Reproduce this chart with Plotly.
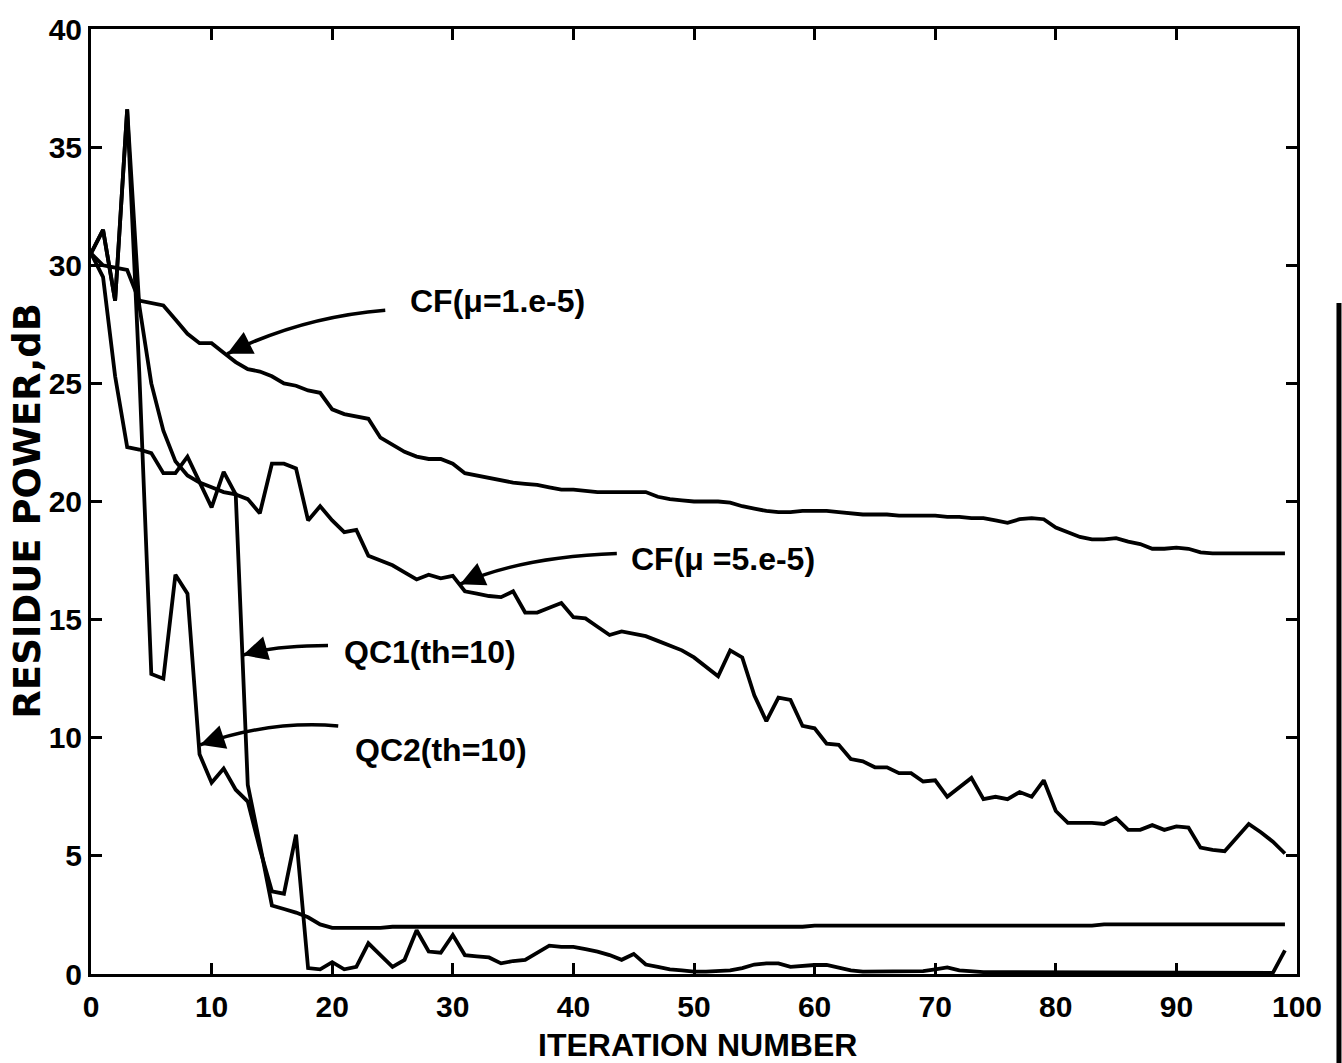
import plotly.graph_objects as go

# ---- data ----
iterations = list(range(100))

cf_mu_1e5 = [30.5, 30.0, 29.9, 29.8, 28.5, 28.4, 28.3, 27.7, 27.1, 26.7,
             26.7, 26.3, 25.9, 25.6, 25.5, 25.3, 25.0, 24.9, 24.7, 24.6,
             23.9, 23.7, 23.6, 23.5, 22.7, 22.4, 22.1, 21.9, 21.8, 21.8,
             21.6, 21.2, 21.1, 21.0, 20.9, 20.8, 20.75, 20.7, 20.6, 20.5,
             20.5, 20.45, 20.4, 20.4, 20.4, 20.4, 20.4, 20.2, 20.1, 20.05,
             20.0, 20.0, 20.0, 19.95, 19.8, 19.7, 19.6, 19.55, 19.55, 19.6,
             19.6, 19.6, 19.55, 19.5, 19.45, 19.45, 19.45, 19.4, 19.4, 19.4,
             19.4, 19.35, 19.35, 19.3, 19.3, 19.2, 19.1, 19.25, 19.3, 19.25,
             18.9, 18.7, 18.5, 18.4, 18.4, 18.45, 18.3, 18.2, 18.0, 18.0,
             18.05, 18.0, 17.85, 17.8, 17.8, 17.8, 17.8, 17.8, 17.8, 17.8]

cf_mu_5e5 = [30.5, 29.5, 25.3, 22.3, 22.2, 22.05, 21.2, 21.2, 21.9, 20.8,
             19.75, 21.25, 20.3, 20.1, 19.5, 21.6, 21.6, 21.4, 19.2, 19.8,
             19.2, 18.7, 18.8, 17.7, 17.5, 17.3, 17.0, 16.7, 16.9, 16.75,
             16.85, 16.2, 16.1, 16.0, 15.95, 16.2, 15.3, 15.3, 15.5, 15.7,
             15.1, 15.05, 14.7, 14.35, 14.5, 14.4, 14.3, 14.1, 13.9, 13.7,
             13.4, 13.0, 12.6, 13.7, 13.4, 11.8, 10.7, 11.7, 11.6, 10.5,
             10.4, 9.75, 9.7, 9.1, 9.0, 8.75, 8.75, 8.5, 8.5, 8.15,
             8.2, 7.5, 7.9, 8.3, 7.4, 7.5, 7.4, 7.7, 7.5, 8.2,
             6.9, 6.4, 6.4, 6.4, 6.35, 6.6, 6.1, 6.1, 6.3, 6.1,
             6.25, 6.2, 5.35, 5.25, 5.2, 5.8, 6.35, 6.0, 5.6, 5.1]

qc1_th10 = [30.5, 31.5, 28.5, 36.6, 28.3, 25.0, 23.0, 21.7, 21.1, 20.8,
            20.6, 20.4, 20.3, 8.0, 5.5, 2.9, 2.75, 2.6, 2.4, 2.1,
            1.95, 1.95, 1.95, 1.95, 1.95, 2.0, 2.0, 2.0, 2.0, 2.0,
            2.0, 2.0, 2.0, 2.0, 2.0, 2.0, 2.0, 2.0, 2.0, 2.0,
            2.0, 2.0, 2.0, 2.0, 2.0, 2.0, 2.0, 2.0, 2.0, 2.0,
            2.0, 2.0, 2.0, 2.0, 2.0, 2.0, 2.0, 2.0, 2.0, 2.0,
            2.05, 2.05, 2.05, 2.05, 2.05, 2.05, 2.05, 2.05, 2.05, 2.05,
            2.05, 2.05, 2.05, 2.05, 2.05, 2.05, 2.05, 2.05, 2.05, 2.05,
            2.05, 2.05, 2.05, 2.05, 2.1, 2.1, 2.1, 2.1, 2.1, 2.1,
            2.1, 2.1, 2.1, 2.1, 2.1, 2.1, 2.1, 2.1, 2.1, 2.1]

qc2_th10 = [30.5, 31.5, 28.5, 36.6, 25.5, 12.7, 12.5, 16.9, 16.1, 9.3,
            8.1, 8.7, 7.8, 7.3, 5.3, 3.5, 3.4, 5.9, 0.25, 0.2,
            0.5, 0.2, 0.3, 1.3, 0.8, 0.3, 0.6, 1.85, 0.95, 0.9,
            1.65, 0.8, 0.75, 0.7, 0.45, 0.55, 0.6, 0.9, 1.2, 1.15,
            1.15, 1.05, 0.95, 0.8, 0.6, 0.85, 0.4, 0.3, 0.2, 0.15,
            0.1, 0.1, 0.12, 0.15, 0.25, 0.4, 0.45, 0.45, 0.3, 0.35,
            0.38, 0.38, 0.25, 0.15, 0.1, 0.1, 0.1, 0.1, 0.1, 0.12,
            0.2, 0.28, 0.15, 0.1, 0.08, 0.08, 0.08, 0.07, 0.07, 0.07,
            0.07, 0.06, 0.06, 0.06, 0.06, 0.06, 0.06, 0.05, 0.05, 0.05,
            0.05, 0.05, 0.05, 0.05, 0.05, 0.06, 0.08, 0.08, 0.05, 1.0]

series = [("CF(μ=1.e-5)", cf_mu_1e5), ("CF(μ=5.e-5)", cf_mu_5e5),
          ("QC1(th=10)", qc1_th10), ("QC2(th=10)", qc2_th10)]

x_ticks = [0, 10, 20, 30, 40, 50, 60, 70, 80, 90, 100]
y_ticks = [0, 5, 10, 15, 20, 25, 30, 35, 40]

# labels: text, text position, arrow start, arrow control, arrow tip, arrowhead tail offset (px)
labels = [
    ("CF(μ=1.e-5)", (33.7, 28.5), (24.4, 28.1), (17.3, 27.8), (11.3, 26.25), (20, -10)),
    ("CF(μ =5.e-5)", (52.4, 17.55), (43.6, 17.8), (35.6, 17.65), (30.6, 16.5), (20, -9)),
    ("QC1(th=10)", (28.1, 13.65), (19.65, 13.9), (15.3, 13.9), (12.6, 13.5), (21, -6)),
    ("QC2(th=10)", (29.0, 9.5), (20.5, 10.5), (14.8, 10.75), (9.05, 9.7), (21, -7)),
]

FONT = "Liberation Sans, Arial, sans-serif"

fig = go.Figure()
for name, vals in series:
    fig.add_trace(go.Scatter(x=iterations, y=vals, mode="lines", name=name,
                             line=dict(color="black", width=3.8), showlegend=False))

for text, tpos, start, ctrl, tip, off in labels:
    fig.add_annotation(x=tpos[0], y=tpos[1], xref="x", yref="y", text=text,
                       showarrow=False, xanchor="center", yanchor="middle",
                       font=dict(family=FONT, size=32, color="black", weight="bold"))
    fig.add_shape(type="path", xref="x", yref="y",
                  path=f"M {start[0]},{start[1]} Q {ctrl[0]},{ctrl[1]} {tip[0]},{tip[1]}",
                  line=dict(color="black", width=3.5))
    fig.add_annotation(x=tip[0], y=tip[1], xref="x", yref="y", text="",
                       showarrow=True, ax=off[0], ay=off[1], arrowhead=2,
                       arrowsize=1.4, arrowwidth=3.5, arrowcolor="black", standoff=0)

# axis titles
fig.add_annotation(x=0.5031, y=-0.0755, xref="paper", yref="paper",
                   text="ITERATION NUMBER", showarrow=False,
                   xanchor="center", yanchor="middle",
                   font=dict(family=FONT, size=32, color="black", weight="bold"))
fig.add_annotation(x=-0.0525, y=0.49, xref="paper", yref="paper",
                   text="RESIDUE POWER,dB", showarrow=False, textangle=-90,
                   xanchor="center", yanchor="middle",
                   font=dict(family="DejaVu Sans, sans-serif", size=37, color="black",
                             weight="bold"))

# scan edge line at right
fig.add_shape(type="line", xref="paper", yref="paper", x0=1.0348, x1=1.0348,
              y0=-0.1, y1=0.71, line=dict(color="black", width=5))

axis_common = dict(showgrid=False, zeroline=False, showline=True, linecolor="black",
                   linewidth=3, mirror="ticks", ticks="inside", ticklen=11,
                   tickwidth=2.5, tickcolor="black",
                   tickfont=dict(family=FONT, size=30, color="black", weight="bold"))

fig.update_xaxes(range=[0, 100], tickvals=x_ticks, ticktext=[str(v) for v in x_ticks],
                 ticklabelstandoff=4, **axis_common)
fig.update_yaxes(range=[0, 40], tickvals=y_ticks, ticktext=[str(v) for v in y_ticks],
                 ticklabelstandoff=0, **axis_common)

fig.update_layout(width=1342, height=1063, plot_bgcolor="white", paper_bgcolor="white",
                  margin=dict(l=91, r=45, t=20, b=89), showlegend=False)

fig.write_html("out.html")
